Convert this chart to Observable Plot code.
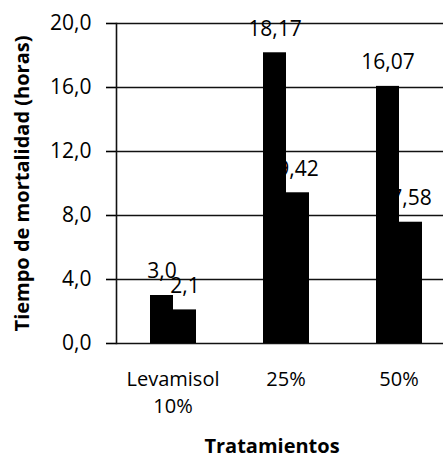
<!DOCTYPE html>
<html><head><meta charset="utf-8">
<script src="https://cdn.jsdelivr.net/npm/d3@7"></script>
<script src="https://cdn.jsdelivr.net/npm/@observablehq/plot@0.6"></script>
<style>body{margin:0;background:#fff;} #chart svg{font-family:"Open Sans";}</style>
</head><body><div id="chart"></div>
<script>
const groups = ["Levamisol\n10%", "25%", "50%"];
const seriesA = [3.0, 18.17, 16.07];
const seriesB = [2.1, 9.42, 7.58];
const labelsA = ["3,0", "18,17", "16,07"];
const labelsB = ["2,1", "9,42", "7,58"];
const yTicks = [0, 4, 8, 12, 16, 20];
const yTitle = "Tiempo de mortalidad (horas)";
const xTitle = "Tratamientos";

const data = groups.flatMap((g, i) => [
  {g, s: "A", v: seriesA[i], l: labelsA[i]},
  {g, s: "B", v: seriesB[i], l: labelsB[i]}
]);

const chart = Plot.plot({
  width: 443, height: 457,
  marginLeft: 116, marginRight: -12, marginTop: 23, marginBottom: 114,
  style: {fontFamily: "Open Sans", fontSize: "20px", background: "#fff", color: "#000"},
  fx: {domain: groups, padding: 0, label: null},
  x: {domain: ["A", "B"], paddingInner: 0, paddingOuter: 1.375, axis: null},
  y: {domain: [0, 20], axis: null},
  marks: [
    Plot.ruleY(yTicks, {stroke: "#111", strokeWidth: 1.6}),
    Plot.axisY({ticks: yTicks, tickSize: 10, tickPadding: 15, strokeWidth: 1.6,
      tickFormat: d => d.toFixed(1).replace(".", ","), label: null, fontSize: 21}),
    Plot.frame({anchor: "left", facetAnchor: "left", stroke: "#111", strokeWidth: 1.6}),
    Plot.text([yTitle], {frameAnchor: "left", facetAnchor: "left", textAnchor: "middle",
      rotate: -90, dx: -94, fontWeight: "bold", fontSize: 20}),
    Plot.axisFx({anchor: "bottom", tickSize: 0, tickPadding: 23, fontSize: 20, lineHeight: 1.35, label: null}),
    Plot.text([{g: groups[1], t: xTitle}], {fx: "g", text: "t", frameAnchor: "bottom", dx: -14, dy: 109,
      fontWeight: "bold", fontSize: 20}),
    Plot.text(data, {fx: "g", x: "s", y: "v", text: "l", dy: -24, fontSize: 21}),
    Plot.barY(data, {fx: "g", x: "s", y: "v", fill: "#000"})
  ]
});
document.getElementById("chart").appendChild(chart);
</script>
</body></html>
